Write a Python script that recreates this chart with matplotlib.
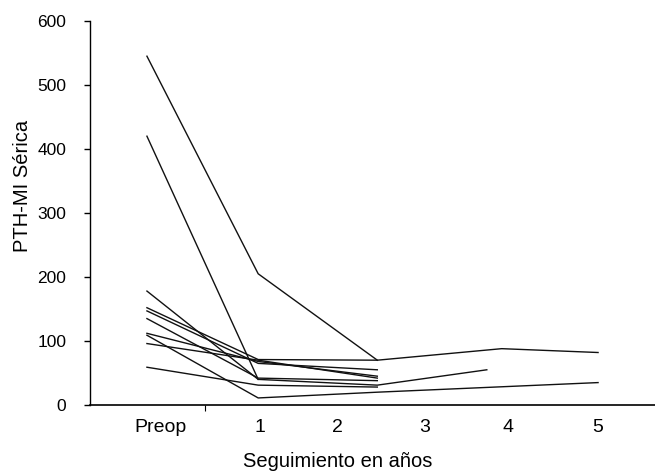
import matplotlib
matplotlib.use('Agg')
import matplotlib.pyplot as plt

plt.rcParams['font.family'] = ['Liberation Sans', 'DejaVu Sans']

# Data: follow-up time (years, Preop slightly before 0) and serum PTH-MI per patient
t_pre, t1, t2 = -0.15, 1.12, 2.48
patients_x = [
    [t_pre, t1, t2],
    [t_pre, t1],
    [t_pre, t1, t2, 3.9, 5.0],
    [t_pre, t1, t2],
    [t_pre, t1, t2],
    [t_pre, t1, t2, 3.73],
    [t_pre, t1, t2],
    [t_pre, t1, t2, 5.0],
    [t_pre, t1, t2],
    [t_pre, t1, t2],
]
patients_pth = [
    [545, 205, 70],
    [420, 40],
    [152, 71, 70, 88, 82],
    [147, 65, 55],
    [96, 70, 42],
    [178, 40, 31, 55],
    [135, 42, 38],
    [109, 11, 20, 35],
    [59, 31, 28],
    [112, 68, 45],
]

tick_pos = [0, 1.14, 2.03, 3.02, 3.97, 5.0]
tick_labels = ['Preop', '1', '2', '3', '4', '5']
y_ticks = [0, 100, 200, 300, 400, 500, 600]

fig = plt.figure(figsize=(6.55, 4.74), dpi=100)
ax = fig.add_axes([0.1374, 0.1456, 0.8626, 0.8101])

for xs, ys in zip(patients_x, patients_pth):
    ax.plot(xs, ys, color='#111111', linewidth=1.0)

ax.set_xlim(-0.80, 5.65)
ax.set_ylim(0, 600)

ax.set_xticks(tick_pos)
ax.set_xticklabels(tick_labels)
ax.set_xticks([0.51], minor=True)
ax.tick_params(axis='x', which='major', length=0, pad=10, labelsize=14)
ax.tick_params(axis='x', which='minor', length=4, width=0.8, direction='out')

ax.set_yticks(y_ticks)
ax.tick_params(axis='y', length=4, width=1.0, direction='out', pad=13, labelsize=12.5)

ax.spines['top'].set_visible(False)
ax.spines['right'].set_visible(False)
ax.spines['left'].set_linewidth(1.0)
ax.spines['bottom'].set_linewidth(1.2)

ax.set_ylabel('PTH-MI Sérica', fontsize=14.5)
ax.yaxis.set_label_coords(-0.103, 0.57)
ax.set_xlabel('Seguimiento en años', fontsize=14.5)
ax.xaxis.set_label_coords(0.438, -0.122)

fig.savefig('out.png', dpi=100, facecolor='white')
